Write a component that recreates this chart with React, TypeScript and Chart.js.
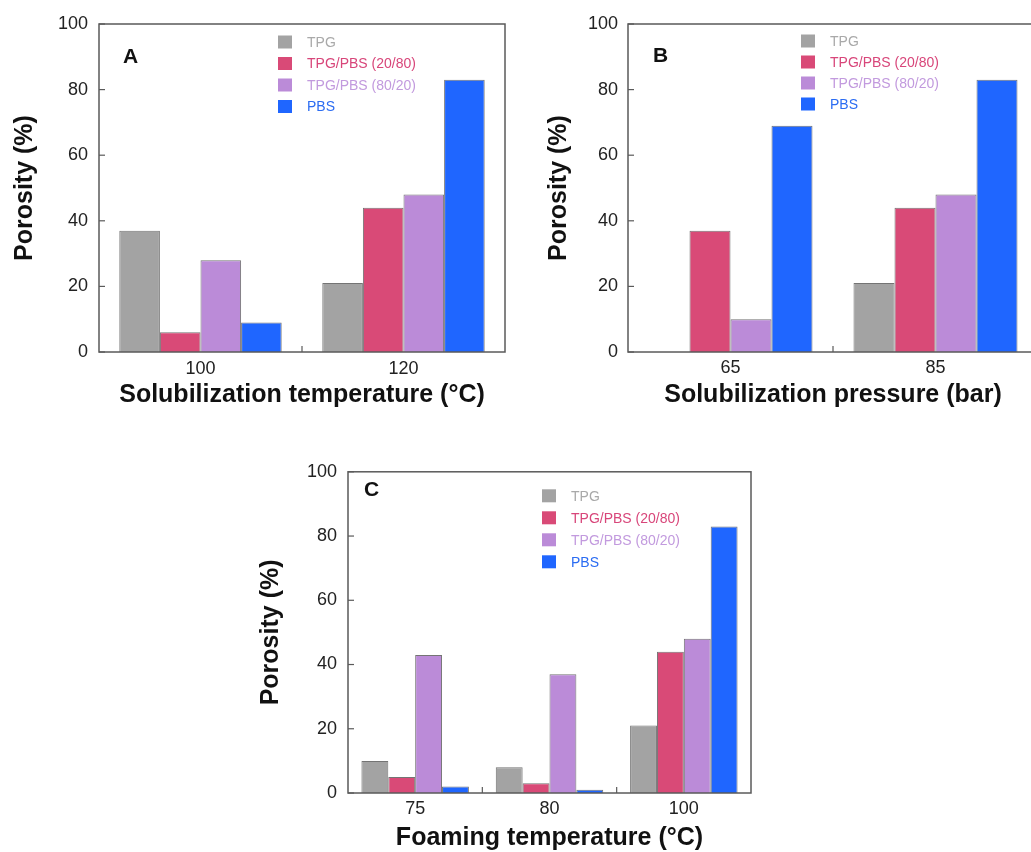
import React, { useEffect, useRef } from "react";
import { Chart, registerables } from "chart.js";
Chart.register(...registerables);

const seriesNames = ["TPG", "TPG/PBS (20/80)", "TPG/PBS (80/20)", "PBS"];
const barColors = ["#a3a3a3", "#d94a77", "#bb8bd8", "#1f66ff"];
const legendTextColors = ["#a9a9a9", "#d8467a", "#c29ade", "#2b6cf2"];
const yTicks = [0, 20, 40, 60, 80, 100];

// Panel A
const catsA = ["100", "120"];
const tpgA = [37, 21];
const p2080A = [6, 44];
const p8020A = [28, 48];
const pbsA = [9, 83];

// Panel B
const catsB = ["65", "85"];
const tpgB = [null, 21];
const p2080B = [37, 44];
const p8020B = [10, 48];
const pbsB = [69, 83];

// Panel C
const catsC = ["75", "80", "100"];
const tpgC = [10, 8, 21];
const p2080C = [5, 3, 44];
const p8020C = [43, 37, 48];
const pbsC = [2, 1, 83];

const FONT = "'Liberation Sans', Arial, sans-serif";

const framePlugin = {
  id: "frame",
  afterDraw(chart: any, _args: any, opts: any) {
    const { ctx, chartArea } = chart;
    const { left, right, top, bottom } = chartArea;
    ctx.save();
    ctx.strokeStyle = "#5a5a5a";
    ctx.lineWidth = 1.5;
    ctx.strokeRect(left, top, right - left, bottom - top);
    // inward y ticks
    const ys = chart.scales.y;
    ctx.lineWidth = 1.2;
    ys.ticks.forEach((t: any) => {
      const py = ys.getPixelForValue(t.value);
      ctx.beginPath();
      ctx.moveTo(left, py);
      ctx.lineTo(left + 6, py);
      ctx.stroke();
    });
    // category separator ticks
    const xs = chart.scales.x;
    const n = chart.data.labels.length;
    for (let i = 0; i < n - 1; i++) {
      const px = (xs.getPixelForValue(i) + xs.getPixelForValue(i + 1)) / 2;
      ctx.beginPath();
      ctx.moveTo(px, bottom);
      ctx.lineTo(px, bottom - 6);
      ctx.stroke();
    }
    // panel letter
    ctx.fillStyle = "#111";
    ctx.font = `bold 21px ${FONT}`;
    ctx.textBaseline = "alphabetic";
    ctx.textAlign = "left";
    ctx.fillText(opts.letter, left + opts.letterDx, top + opts.letterDy);
    // legend
    ctx.font = `14px ${FONT}`;
    ctx.textBaseline = "middle";
    chart.data.datasets.forEach((ds: any, i: number) => {
      const cy = top + opts.legDy + i * opts.legStep;
      const lx = left + opts.legDx;
      ctx.fillStyle = ds.backgroundColor;
      ctx.fillRect(lx, cy - 6.5, 14, 13);
      ctx.fillStyle = ds.legendColor;
      ctx.fillText(ds.label, lx + 29, cy + 1);
    });
    ctx.restore();
  },
};

type PanelProps = {
  cats: string[];
  series: (number | null)[][];
  xTitle: string;
  letter: string;
  left: number;
  top: number;
  width: number;
  height: number;
  yWidth: number;
  xHeight: number;
  padTop: number;
  padRight: number;
  yTitlePad: number;
  yTickPad: number;
  xTickPad: number;
  xTitlePad: number;
  letterDx: number;
  letterDy: number;
  legDx: number;
  legDy: number;
  legStep: number;
};

function Panel(p: PanelProps) {
  const ref = useRef<HTMLCanvasElement>(null);
  useEffect(() => {
    const chart = new Chart(ref.current as HTMLCanvasElement, {
      type: "bar",
      data: {
        labels: p.cats,
        datasets: p.series.map((vals, i) => ({
          label: seriesNames[i],
          data: vals,
          backgroundColor: barColors[i],
          borderColor: "rgba(70,70,70,0.75)",
          borderWidth: 1,
          legendColor: legendTextColors[i],
          categoryPercentage: 0.8,
          barPercentage: 1.0,
        })) as any,
      },
      options: {
        animation: false,
        responsive: false,
        maintainAspectRatio: false,
        layout: { padding: { top: p.padTop, right: p.padRight, left: 0, bottom: 0 } },
        plugins: {
          legend: { display: false },
          tooltip: { enabled: false },
          frame: {
            letter: p.letter,
            letterDx: p.letterDx,
            letterDy: p.letterDy,
            legDx: p.legDx,
            legDy: p.legDy,
            legStep: p.legStep,
          },
        } as any,
        scales: {
          x: {
            grid: { display: false, drawTicks: false },
            border: { display: false },
            ticks: {
              color: "#222",
              font: { family: FONT, size: 18 },
              padding: p.xTickPad,
              maxRotation: 0,
            },
            title: {
              display: true,
              text: p.xTitle,
              color: "#111",
              font: { family: FONT, size: 25, weight: "bold" },
              padding: { top: 0, bottom: p.xTitlePad },
            },
            afterFit: (s: any) => {
              s.height = p.xHeight;
            },
          },
          y: {
            min: 0,
            max: 100,
            afterBuildTicks: (s: any) => {
              s.ticks = yTicks.map((v) => ({ value: v }));
            },
            grid: { display: false, drawTicks: false },
            border: { display: false },
            ticks: {
              color: "#222",
              font: { family: FONT, size: 18 },
              padding: p.yTickPad,
            },
            title: {
              display: true,
              text: "Porosity (%)",
              color: "#111",
              font: { family: FONT, size: 25, weight: "bold" },
              padding: { top: p.yTitlePad, bottom: 0 },
            },
            afterFit: (s: any) => {
              s.width = p.yWidth;
            },
          },
        },
      } as any,
      plugins: [framePlugin],
    });
    return () => chart.destroy();
  }, []);
  return (
    <canvas
      ref={ref}
      width={p.width}
      height={p.height}
      style={{ position: "absolute", left: p.left, top: p.top, width: p.width, height: p.height }}
    />
  );
}

export default function App() {
  return (
    <div
      style={{
        position: "absolute",
        left: 0,
        top: 0,
        width: 1031,
        height: 852,
        overflow: "hidden",
        background: "#fff",
      }}
    >
      <Panel
        cats={catsA}
        series={[tpgA, p2080A, p8020A, pbsA]}
        xTitle="Solubilization temperature (°C)"
        letter="A"
        left={0}
        top={0}
        width={520}
        height={420}
        yWidth={99}
        xHeight={68}
        padTop={24}
        padRight={15}
        yTitlePad={10}
        yTickPad={11}
        xTickPad={6}
        xTitlePad={10}
        letterDx={24}
        letterDy={39}
        legDx={179}
        legDy={18}
        legStep={21.5}
      />
      <Panel
        cats={catsB}
        series={[tpgB, p2080B, p8020B, pbsB]}
        xTitle="Solubilization pressure (bar)"
        letter="B"
        left={520}
        top={0}
        width={530}
        height={420}
        yWidth={108}
        xHeight={68}
        padTop={24}
        padRight={12}
        yTitlePad={24}
        yTickPad={10}
        xTickPad={5}
        xTitlePad={10}
        letterDx={25}
        letterDy={38}
        legDx={173}
        legDy={17}
        legStep={21}
      />
      <Panel
        cats={catsC}
        series={[tpgC, p2080C, p8020C, pbsC]}
        xTitle="Foaming temperature (°C)"
        letter="C"
        left={250}
        top={450}
        width={520}
        height={420}
        yWidth={98}
        xHeight={77}
        padTop={14}
        padRight={19}
        yTitlePad={6}
        yTickPad={11}
        xTickPad={5}
        xTitlePad={17}
        letterDx={16}
        letterDy={24}
        legDx={194}
        legDy={24}
        legStep={22}
      />
    </div>
  );
}
